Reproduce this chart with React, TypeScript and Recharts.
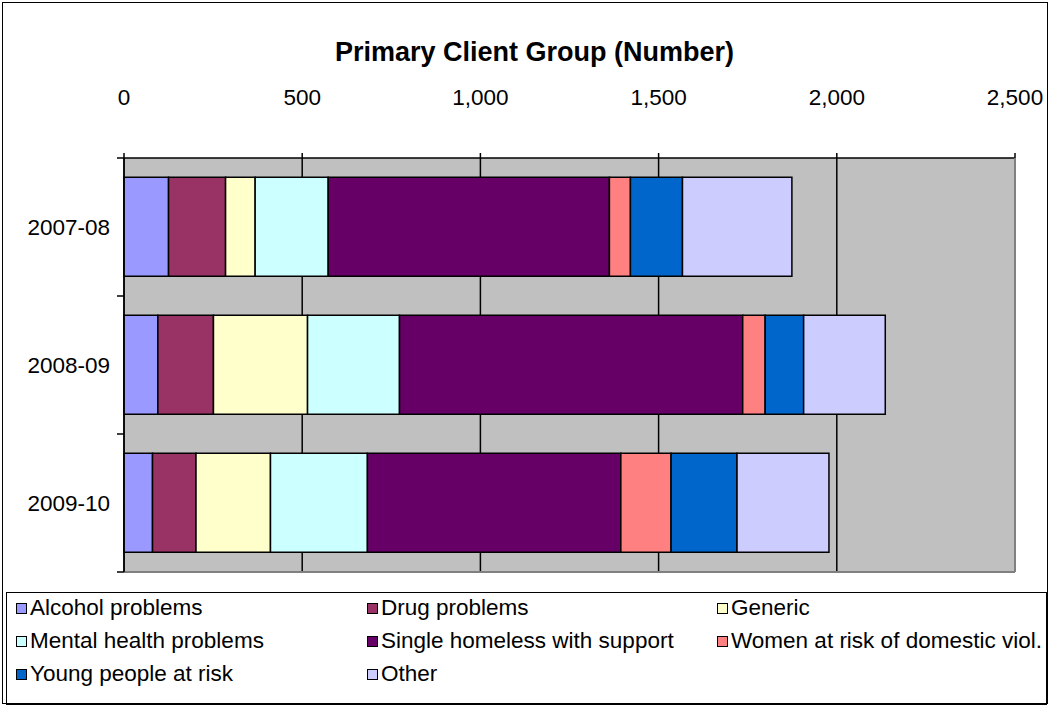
import React from 'react';
import { Bar, BarChart, CartesianGrid, XAxis, YAxis } from 'recharts';

const years = ['2007-08', '2008-09', '2009-10'];
const alcohol = [125, 95, 80];
const drug = [160, 156, 122];
const generic = [83, 264, 209];
const mental = [205, 258, 272];
const single = [789, 963, 711];
const women = [59, 63, 141];
const young = [146, 108, 185];
const other = [307, 229, 258];
const xTicks = [0, 500, 1000, 1500, 2000, 2500];

const series = [
    { key: 'alcohol', name: 'Alcohol problems', color: '#9999FF', values: alcohol },
    { key: 'drug', name: 'Drug problems', color: '#993366', values: drug },
    { key: 'generic', name: 'Generic', color: '#FFFFCC', values: generic },
    { key: 'mental', name: 'Mental health problems', color: '#CCFFFF', values: mental },
    { key: 'single', name: 'Single homeless with support', color: '#660066', values: single },
    { key: 'women', name: 'Women at risk of domestic viol.', color: '#FF8080', values: women },
    { key: 'young', name: 'Young people at risk', color: '#0066CC', values: young },
    { key: 'other', name: 'Other', color: '#CCCCFF', values: other },
];

const data = years.map((year, i) => {
    const row: Record<string, string | number> = { year };
    series.forEach((s) => {
        row[s.key] = s.values[i];
    });
    return row;
});

const W = 1051;
const H = 707;
const PLOT_TOP = 158;
const PLOT_BOTTOM = 572;
const PLOT_LEFT = 124;
const PLOT_RIGHT = 1015;
const FONT = '"Liberation Sans", Arial, sans-serif';
const band = (PLOT_BOTTOM - PLOT_TOP) / years.length;

function YearTick(props: any) {
    const { x, y, payload, index } = props;
    const top = y - band / 2;
    return (
        <g>
            <line x1={x - 7} x2={x} y1={top} y2={top} stroke="#000" strokeWidth={1.5} />
            {index === years.length - 1 && (
                <line x1={x - 7} x2={x} y1={y + band / 2} y2={y + band / 2} stroke="#000" strokeWidth={1.5} />
            )}
            <text x={x - 14} y={y} dy="0.36em" textAnchor="end" fontSize={22.5} fontFamily={FONT} fill="#000">
                {payload.value}
            </text>
        </g>
    );
}

export default function App() {
    return (
        <div style={{ position: 'absolute', left: 0, top: 0, width: W, height: H, background: '#fff', fontFamily: FONT }}>
            <div
                style={{
                    position: 'absolute',
                    left: 2,
                    top: 2,
                    width: W - 5,
                    height: H - 5,
                    border: '1.5px solid #000',
                    boxSizing: 'border-box',
                }}
            />
            <div
                style={{
                    position: 'absolute',
                    left: 17,
                    top: 39,
                    width: 1035,
                    textAlign: 'center',
                    fontSize: 27,
                    lineHeight: 1,
                    fontWeight: 'bold',
                }}
            >
                Primary Client Group (Number)
            </div>
            <BarChart
                width={W}
                height={H}
                data={data}
                layout="vertical"
                barCategoryGap="14%"
                margin={{ top: 0, right: 0, bottom: 0, left: 0 }}
                style={{ position: 'absolute', left: 0, top: 0 }}
            >
                <CartesianGrid
                    horizontal={false}
                    vertical
                    stroke="#000"
                    strokeWidth={1.5}
                    fill="#C0C0C0"
                    fillOpacity={1}
                />
                <XAxis
                    type="number"
                    orientation="top"
                    domain={[0, 2500]}
                    ticks={xTicks}
                    height={PLOT_TOP}
                    tickSize={5}
                    tickMargin={48}
                    tickFormatter={(v) => v.toLocaleString('en-US')}
                    tick={{ fontSize: 22.5, fontFamily: FONT, fill: '#000' }}
                    stroke="#000"
                    axisLine={{ stroke: '#000', strokeWidth: 1.5 }}
                    tickLine={{ stroke: '#000', strokeWidth: 1.5 }}
                    interval={0}
                />
                <XAxis
                    xAxisId="b"
                    type="number"
                    orientation="bottom"
                    domain={[0, 2500]}
                    height={H - PLOT_BOTTOM}
                    tick={false}
                    tickLine={false}
                    axisLine={{ stroke: '#808080', strokeWidth: 2 }}
                />
                <YAxis
                    type="category"
                    dataKey="year"
                    width={PLOT_LEFT}
                    tickSize={0}
                    tickMargin={0}
                    tickLine={false}
                    tick={<YearTick />}
                    axisLine={{ stroke: '#000', strokeWidth: 1.5 }}
                    interval={0}
                />
                <YAxis
                    yAxisId="r"
                    type="category"
                    dataKey="year"
                    orientation="right"
                    width={W - PLOT_RIGHT}
                    tick={false}
                    tickLine={false}
                    axisLine={{ stroke: '#808080', strokeWidth: 2 }}
                />
                {series.map((s) => (
                    <Bar
                        key={s.key}
                        dataKey={s.key}
                        name={s.name}
                        stackId="a"
                        fill={s.color}
                        stroke="#000"
                        strokeWidth={1.5}
                        isAnimationActive={false}
                    />
                ))}
            </BarChart>
            <div
                style={{
                    position: 'absolute',
                    left: 6,
                    top: 592,
                    width: W - 10,
                    height: 113,
                    border: '1.5px solid #000',
                    boxSizing: 'border-box',
                    display: 'grid',
                    gridTemplateColumns: '351px 350px auto',
                    gridAutoRows: '33px',
                    paddingLeft: 9,
                    paddingTop: 0,
                    alignItems: 'center',
                    fontSize: 22.5,
                }}
            >
                {series.map((s) => (
                    <div
                        key={s.key}
                        style={{ display: 'flex', alignItems: 'center', whiteSpace: 'nowrap', marginTop: -3 }}
                    >
                        <span
                            style={{
                                display: 'inline-block',
                                width: 9,
                                height: 9,
                                background: s.color,
                                border: '1px solid #000',
                                marginRight: 3,
                            }}
                        />
                        <span style={{ lineHeight: 1 }}>{s.name}</span>
                    </div>
                ))}
            </div>
        </div>
    );
}
